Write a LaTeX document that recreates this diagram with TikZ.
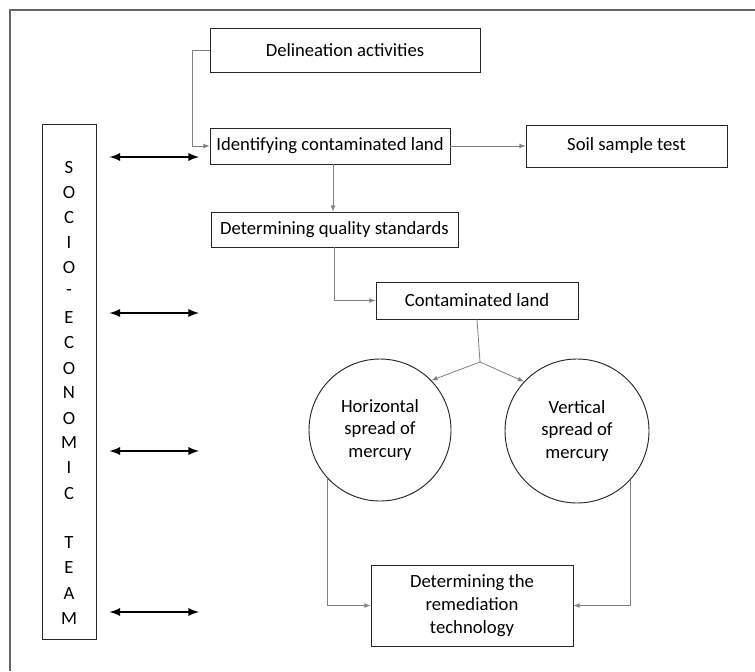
\documentclass[tikz,border=0pt]{standalone}
\usepackage{fontspec}
\setmainfont{Carlito}
\usepackage{tikz}
\tikzset{>=latex}
\usetikzlibrary{arrows}
\usetikzlibrary{calc}

\begin{document}
\begin{tikzpicture}[x=0.75pt, y=-0.75pt,
    box/.style={draw=black!85, line width=0.7pt, font=\fontsize{14}{17}\selectfont, align=center, inner sep=0pt},
    blob/.style={circle, draw=black!85, line width=0.7pt, font=\fontsize{14}{17}\selectfont, align=center, inner sep=0pt},
    link/.style={draw=black!50, line width=0.6pt, ->},
    duo/.style={line width=1.7pt, <->}]

    \useasboundingbox (0,0) rectangle (755,671);

    % Frame
    \draw[black!60, line width=0.9pt] (10,671) -- (10,10) -- (755,10);

    % Process boxes
    \node[box, minimum width=202.5pt, minimum height=33pt] (delin) at (345,50) {Delineation activities};
    \node[box, minimum width=180pt, minimum height=27pt] (ident) at (330,146) {Identifying contaminated land};
    \node[box, minimum width=150.75pt, minimum height=31.5pt] (soil) at (626.5,146) {Soil sample test};
    \node[box, minimum width=185.25pt, minimum height=26.25pt] (quality) at (334.5,229.5) {Determining quality standards};
    \node[box, minimum width=151.5pt, minimum height=27.75pt] (contam) at (477,300.5) {Contaminated land};
    \node[box, minimum width=151.5pt, minimum height=60.75pt] (remed) at (472,605.5) {Determining the\\ remediation\\ technology};

    % Spread circles
    \node[blob, minimum size=106.5pt] (horiz) at (380,430) {Horizontal\\ spread of\\ mercury};
    \node[blob, minimum size=108pt] (vert) at (577,431) {Vertical\\ spread of\\ mercury};

    % Team column
    \node[box, minimum width=40.5pt, minimum height=386.25pt] (team) at (69,381.5) {};
    \foreach \ch [count=\i from 0] in {S,O,C,I,O,-,E,C,O,N,O,M,I,C,{},T,E,A,M}
        \node[font=\fontsize{14}{17}\selectfont] (ch\i) at (69,168+25*\i) {\ch};

    % Links to the team
    \foreach \y [count=\k] in {157,313,451,612}
        \coordinate (r\k) at (199,\y);
    \foreach \k in {1,...,4}
        \draw[duo, shorten <=9.75pt] (team.east |- r\k) -- (r\k);

    % Flow
    \coordinate (split) at (480,362);
    \draw[link] (delin.west) -- ++(-17,0) |- (ident.west);
    \draw[link] (ident.east) -- (soil.west);
    \draw[link] (ident.south -| 333,0) -- (quality.north -| 333,0);
    \draw[link] (quality.south) |- (contam.west);
    \draw[draw=black!50, line width=0.6pt] (contam.south) -- (split);
    \draw[link] (split) -- (horiz.44);
    \draw[link] (split) -- (vert.137);
    \draw[link] (horiz.223) |- (remed.west);
    \draw[link] (vert.317) |- (remed.east);

\end{tikzpicture}
\end{document}
